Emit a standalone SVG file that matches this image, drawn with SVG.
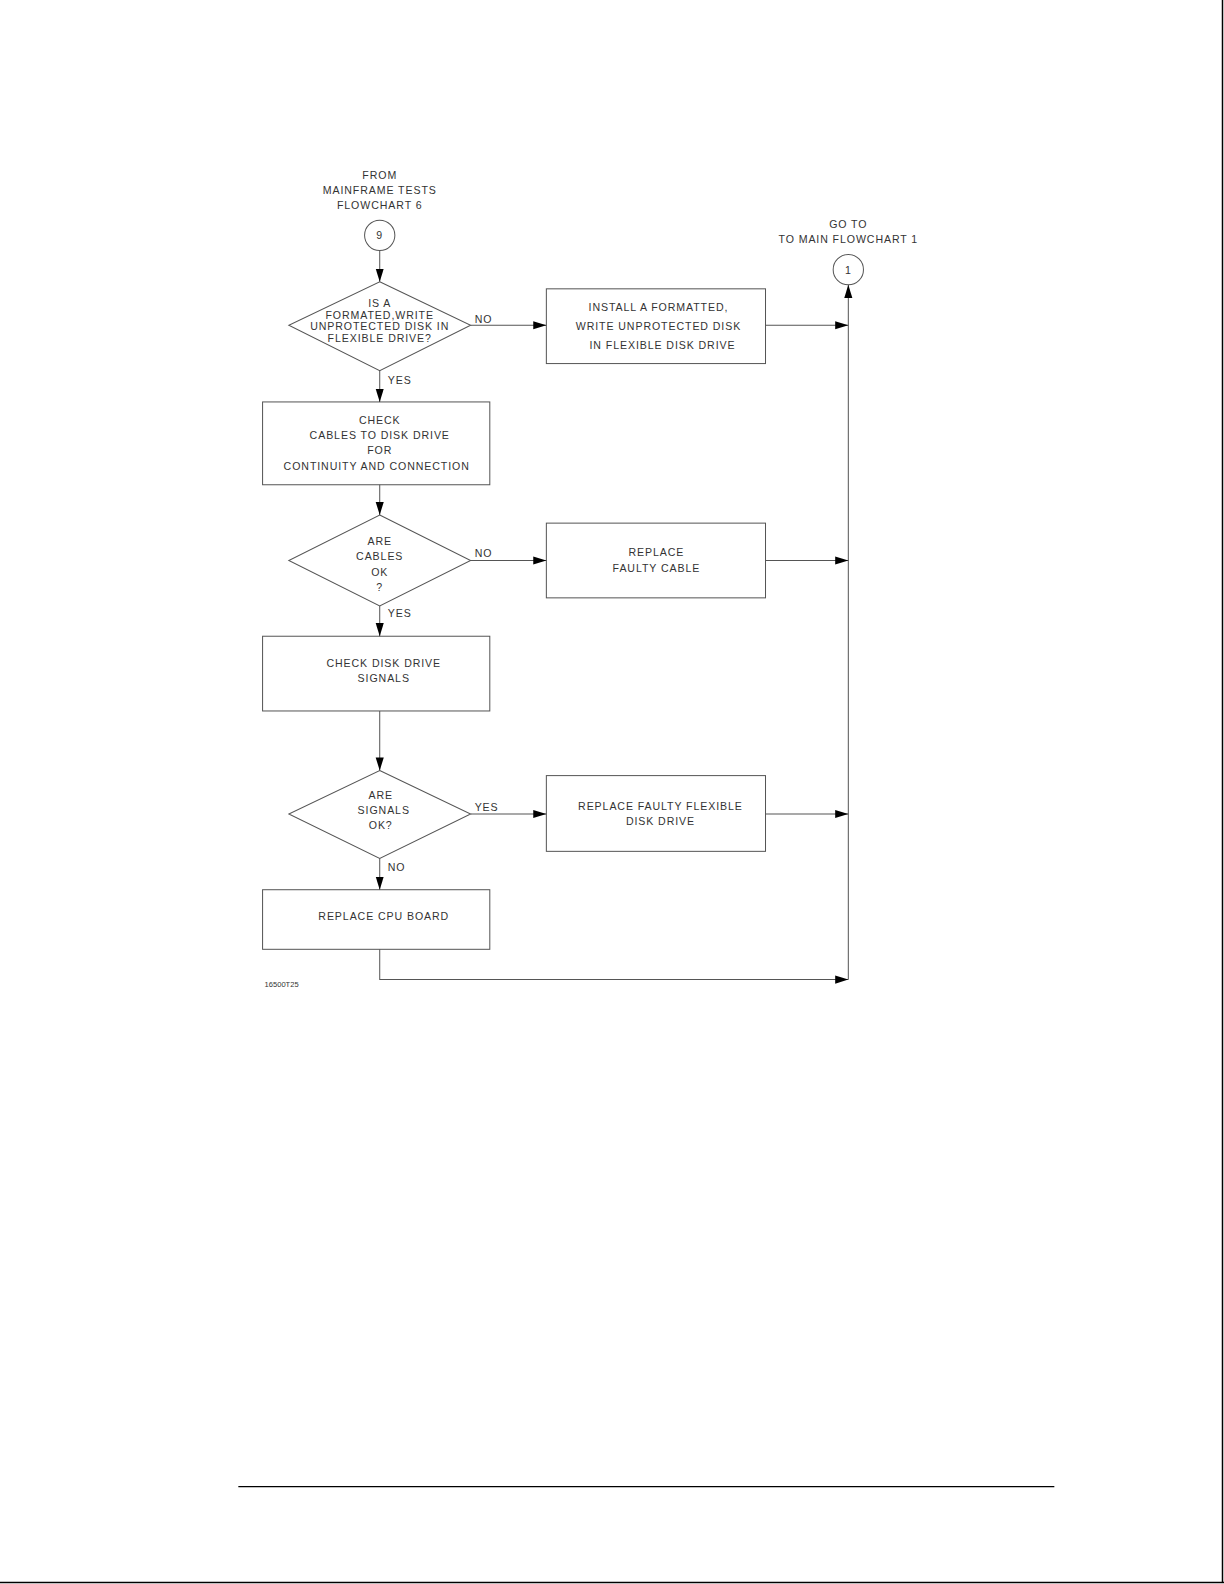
<svg xmlns="http://www.w3.org/2000/svg" width="1224" height="1584" viewBox="0 0 1224 1584">
<defs>
<marker id="ah" markerWidth="14" markerHeight="10" refX="13" refY="5" orient="auto" markerUnits="userSpaceOnUse">
<path d="M0,1 L13,5 L0,9 Z" fill="#000"/>
</marker>
</defs>
<style>
text{font-family:"Liberation Sans",Arial,sans-serif;font-size:10.5px;letter-spacing:0.9px;fill:#333;text-anchor:middle}
.s{fill:#fff;stroke:#555;stroke-width:1}
.c{fill:none;stroke:#555;stroke-width:1}
.a{marker-end:url(#ah)}
.id{font-size:7.5px;letter-spacing:0;text-anchor:start}
.lb{text-anchor:start}
</style>
<rect width="1224" height="1584" fill="#fff"/>
<line x1="1222.5" y1="0" x2="1222.5" y2="1583" stroke="#000" stroke-width="1.5"/>
<line x1="0" y1="1582.5" x2="1224" y2="1582.5" stroke="#000" stroke-width="1.5"/>
<g transform="scale(1.0099)">
<line x1="236" y1="1472" x2="1044" y2="1472" stroke="#000" stroke-width="1.2"/>

<g id="start">
<text x="376" y="177">FROM</text>
<text x="376" y="192">MAINFRAME TESTS</text>
<text x="376" y="207">FLOWCHART 6</text>
<circle class="s" cx="376" cy="233" r="15"/>
<text x="376" y="237">9</text>
</g>
<g id="goto">
<text x="840" y="226">GO TO</text>
<text x="840" y="241">TO MAIN FLOWCHART 1</text>
<circle class="s" cx="840" cy="267" r="15"/>
<text x="840" y="271">1</text>
</g>
<g id="d1">
<polygon class="s" points="376,279 466,322 376,367 286,322"/>
<text x="376" y="304">IS A</text>
<text x="376" y="316">FORMATED,WRITE</text>
<text x="376" y="327">UNPROTECTED DISK IN</text>
<text x="376" y="339">FLEXIBLE DRIVE?</text>
</g>
<g id="b1">
<rect class="s" x="541" y="286" width="217" height="74"/>
<text x="652" y="308">INSTALL A FORMATTED,</text>
<text x="652" y="327">WRITE UNPROTECTED DISK</text>
<text x="656" y="346">IN FLEXIBLE DISK DRIVE</text>
</g>
<g id="b2">
<rect class="s" x="260" y="398" width="225" height="82"/>
<text x="376" y="420">CHECK</text>
<text x="376" y="435">CABLES TO DISK DRIVE</text>
<text x="376" y="450">FOR</text>
<text x="373" y="465">CONTINUITY AND CONNECTION</text>
</g>
<g id="d2">
<polygon class="s" points="376,510 466,555 376,600 286,555"/>
<text x="376" y="540">ARE</text>
<text x="376" y="555">CABLES</text>
<text x="376" y="570">OK</text>
<text x="376" y="585">?</text>
</g>
<g id="b3">
<rect class="s" x="541" y="518" width="217" height="74"/>
<text x="650" y="551">REPLACE</text>
<text x="650" y="566">FAULTY CABLE</text>
</g>
<g id="b4">
<rect class="s" x="260" y="630" width="225" height="74"/>
<text x="380" y="660">CHECK DISK DRIVE</text>
<text x="380" y="675">SIGNALS</text>
</g>
<g id="d3">
<polygon class="s" points="376,763 466,806 376,850 286,806"/>
<text x="377" y="791">ARE</text>
<text x="380" y="806">SIGNALS</text>
<text x="377" y="821">OK?</text>
</g>
<g id="b5">
<rect class="s" x="541" y="768" width="217" height="75"/>
<text x="654" y="802">REPLACE FAULTY FLEXIBLE</text>
<text x="654" y="817">DISK DRIVE</text>
</g>
<g id="b6">
<rect class="s" x="260" y="881" width="225" height="59"/>
<text x="380" y="911">REPLACE CPU BOARD</text>
</g>
<text class="id" x="262" y="977">16500T25</text>

<g id="connectors">
<line class="c a" x1="376" y1="248" x2="376" y2="279"/>
<line class="c a" x1="466" y1="322" x2="541" y2="322"/>
<line class="c a" x1="758" y1="322" x2="840" y2="322"/>
<line class="c a" x1="840" y1="970" x2="840" y2="282"/>
<line class="c a" x1="376" y1="367" x2="376" y2="398"/>
<line class="c a" x1="376" y1="480" x2="376" y2="510"/>
<line class="c a" x1="466" y1="555" x2="541" y2="555"/>
<line class="c a" x1="758" y1="555" x2="840" y2="555"/>
<line class="c a" x1="376" y1="600" x2="376" y2="630"/>
<line class="c a" x1="376" y1="704" x2="376" y2="763"/>
<line class="c a" x1="466" y1="806" x2="541" y2="806"/>
<line class="c a" x1="758" y1="806" x2="840" y2="806"/>
<line class="c a" x1="376" y1="850" x2="376" y2="881"/>
<polyline class="c a" points="376,940 376,970 840,970"/>
<text class="lb" x="470" y="320">NO</text>
<text class="lb" x="384" y="380">YES</text>
<text class="lb" x="470" y="552">NO</text>
<text class="lb" x="384" y="611">YES</text>
<text class="lb" x="470" y="803">YES</text>
<text class="lb" x="384" y="862">NO</text>
</g>
</g>
</svg>
